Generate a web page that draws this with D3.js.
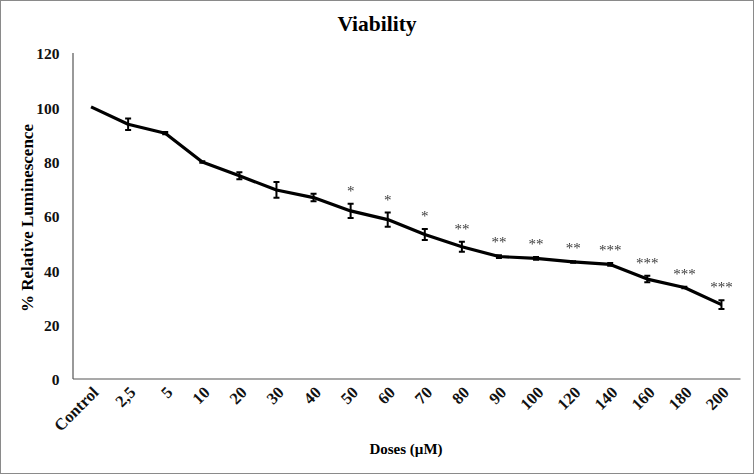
<!DOCTYPE html>
<html><head><meta charset="utf-8">
<script src="https://cdn.jsdelivr.net/npm/d3@7"></script>
<style>body{margin:0;background:#fff}svg{display:block}.sig{will-change:transform}</style>
</head><body>
<svg id="chart" width="754" height="474"></svg>
<script>
const categories = ["Control","2,5","5","10","20","30","40","50","60","70","80","90","100","120","140","160","180","200"];
const viability = [100,93.6,90.3,79.7,74.6,69.4,66.6,61.7,58.5,53.0,48.5,44.9,44.2,42.9,42.0,36.6,33.5,27.2];
const errors =    [0,2.1,0.4,0.3,1.3,2.9,1.4,2.6,2.6,2.0,1.8,0.5,0.5,0.3,0.5,1.2,0.3,1.6];
const significance = ["","","","","","","","*","*","*","**","**","**","**","***","***","***","***"];
const yTicks = [0,20,40,60,80,100,120];

const svg = d3.select("#chart");
const W = 754, H = 474;
const serif = "'Liberation Serif','Times New Roman',serif";

svg.append("rect").attr("x",0.5).attr("y",0.5).attr("width",W-1).attr("height",H-1)
  .attr("fill","#fff").attr("stroke","#8a8a8a").attr("stroke-width",1);

const x = d3.scalePoint().domain(categories).range([72.5,740]).padding(0.5);
const y = d3.scaleLinear().domain([0,120]).range([378.5,52.5]);

// axes
const yAxis = d3.axisLeft(y).tickValues(yTicks).tickSize(0).tickPadding(13);
const gy = svg.append("g").attr("transform","translate(72.5,0)").call(yAxis);
gy.select(".domain").attr("stroke","#555").attr("stroke-width",1.2);
gy.selectAll("text").attr("font-family",serif).attr("font-weight","bold").attr("font-size",15.5)
  .attr("fill","#111").attr("dy","0.4em");

const xAxis = d3.axisBottom(x).tickSize(0).tickFormat(d=>d);
const gx = svg.append("g").attr("transform","translate(0,378.5)").call(xAxis);
gx.select(".domain").attr("stroke","#555").attr("stroke-width",1.2);
gx.selectAll("text").attr("font-family",serif).attr("font-weight","bold").attr("font-size",16.5)
  .attr("fill","#111").attr("text-anchor","end").attr("dy",null).attr("y",0)
  .attr("transform","translate(8,15) rotate(-45)");

// line
const line = d3.line().x((d,i)=>x(categories[i])).y(d=>y(d));
svg.append("path").datum(viability).attr("d",line).attr("fill","none")
  .attr("stroke","#000").attr("stroke-width",3.2).attr("stroke-linejoin","round");

// error bars
svg.append("g").selectAll("path")
  .data(viability.map((v,i)=>({v,e:errors[i],c:categories[i]})).filter(d=>d.e>0))
  .join("path")
  .attr("d",d=>{const cx=x(d.c),t=y(d.v+d.e),b=y(d.v-d.e);
    return `M${cx-3},${t}H${cx+3}M${cx},${t}V${b}M${cx-3},${b}H${cx+3}`;})
  .attr("stroke","#000").attr("stroke-width",2).attr("fill","none");

// significance
svg.append("g").attr("class","sig").attr("transform","rotate(0.0001)")
  .selectAll("text").data(categories).join("text")
  .attr("x",d=>x(d)).attr("y",(d,i)=>y(viability[i]+errors[i])-8)
  .attr("text-anchor","middle").attr("font-family",serif).attr("font-size",15)
  .attr("fill","#3a3a3a").text((d,i)=>significance[i]);

// titles
svg.append("text").attr("x",377).attr("y",31).attr("text-anchor","middle")
  .attr("font-family",serif).attr("font-weight","bold").attr("font-size",21.5).text("Viability");
svg.append("text").attr("transform","translate(33,218) rotate(-90)").attr("text-anchor","middle")
  .attr("font-family",serif).attr("font-weight","bold").attr("font-size",17).text("% Relative Luminescence");
svg.append("text").attr("x",406).attr("y",454).attr("text-anchor","middle")
  .attr("font-family",serif).attr("font-weight","bold").attr("font-size",15).text("Doses (µM)");
</script>
</body></html>
